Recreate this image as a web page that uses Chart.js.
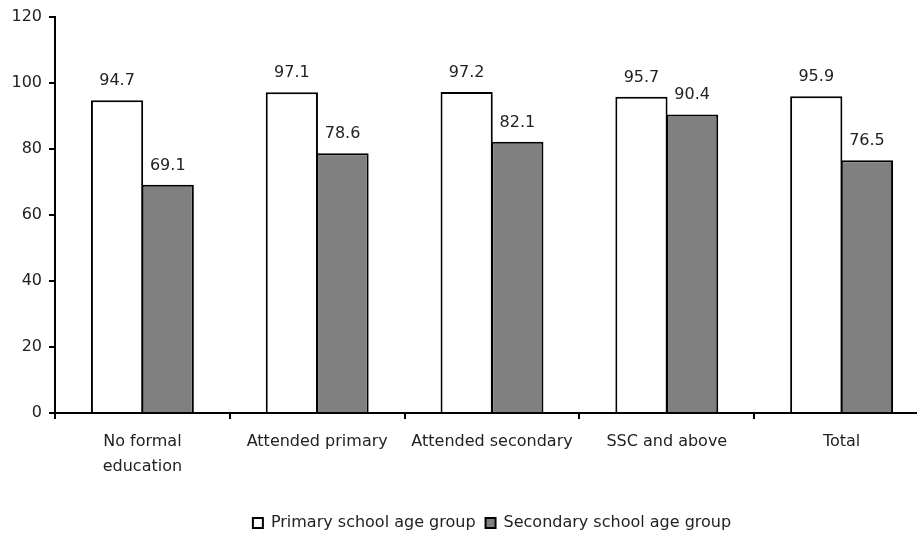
<!DOCTYPE html>
<html>
<head>
<meta charset="utf-8">
<script src="https://cdn.jsdelivr.net/npm/chart.js@4/dist/chart.umd.min.js"></script>
<style>
  html, body { margin: 0; padding: 0; background: #fff; overflow: hidden; }
  #wrap { position: relative; width: 944px; height: 541px; margin-left: -15px; }
</style>
</head>
<body>
<div id="wrap"><canvas id="chart" width="944" height="541"></canvas></div>
<script>
// Education level groups along the x axis
const categories = [
  ['No formal', 'education'],
  'Attended primary',
  'Attended secondary',
  'SSC and above',
  'Total'
];
const seriesNames = ['Primary school age group', 'Secondary school age group'];
const primaryValues = [94.7, 97.1, 97.2, 95.7, 95.9];
const secondaryValues = [69.1, 78.6, 82.1, 90.4, 76.5];
const yTicks = [0, 20, 40, 60, 80, 100, 120];

const FONT = { family: '"DejaVu Sans", sans-serif', size: 16 };
const TEXT = '#222';

// Prints each bar's value just above its top edge
const valueLabels = {
  id: 'valueLabels',
  afterDatasetsDraw(chart) {
    const ctx = chart.ctx;
    ctx.save();
    ctx.font = `${FONT.size}px ${FONT.family}`;
    ctx.fillStyle = TEXT;
    ctx.textAlign = 'center';
    ctx.textBaseline = 'alphabetic';
    chart.data.datasets.forEach((ds, i) => {
      chart.getDatasetMeta(i).data.forEach((bar, j) => {
        ctx.fillText(ds.data[j].toFixed(1), bar.x, bar.y - 15);
      });
    });
    ctx.restore();
  }
};

new Chart(document.getElementById('chart'), {
  type: 'bar',
  data: {
    labels: categories,
    datasets: [
      {
        label: seriesNames[0],
        data: primaryValues,
        backgroundColor: '#ffffff',
        borderColor: '#000000',
        borderWidth: 2,
        categoryPercentage: 0.58,
        barPercentage: 1.03
      },
      {
        label: seriesNames[1],
        data: secondaryValues,
        backgroundColor: '#808080',
        borderColor: '#000000',
        borderWidth: 2,
        categoryPercentage: 0.58,
        barPercentage: 1.03
      }
    ]
  },
  options: {
    responsive: false,
    animation: false,
    events: [],
    layout: { padding: { top: 16, left: 0, right: 0, bottom: 0 } },
    plugins: {
      tooltip: { enabled: false },
      legend: {
        position: 'bottom',
        fullSize: false,
        labels: {
          font: FONT,
          color: TEXT,
          boxWidth: 10,
          boxHeight: 10,
          padding: 10
        }
      }
    },
    scales: {
      x: {
        offset: true,
        grid: {
          offset: true,
          drawOnChartArea: false,
          drawTicks: true,
          tickLength: 6,
          color: '#000',
          lineWidth: 2
        },
        border: { display: true, color: '#000', width: 2 },
        ticks: { font: { ...FONT, lineHeight: 1.56 }, color: TEXT, padding: 10, maxRotation: 0, autoSkip: false },
        afterFit(scale) { scale.height = 92; }
      },
      y: {
        min: 0,
        max: 120,
        afterBuildTicks(scale) { scale.ticks = yTicks.map(v => ({ value: v })); },
        grid: {
          drawOnChartArea: false,
          drawTicks: true,
          tickLength: 6,
          color: '#000',
          lineWidth: 2
        },
        border: { display: true, color: '#000', width: 2 },
        ticks: { font: FONT, color: TEXT, padding: 7 },
        afterFit(scale) { scale.width = 70; }
      }
    }
  },
  plugins: [valueLabels]
});
</script>
</body>
</html>
